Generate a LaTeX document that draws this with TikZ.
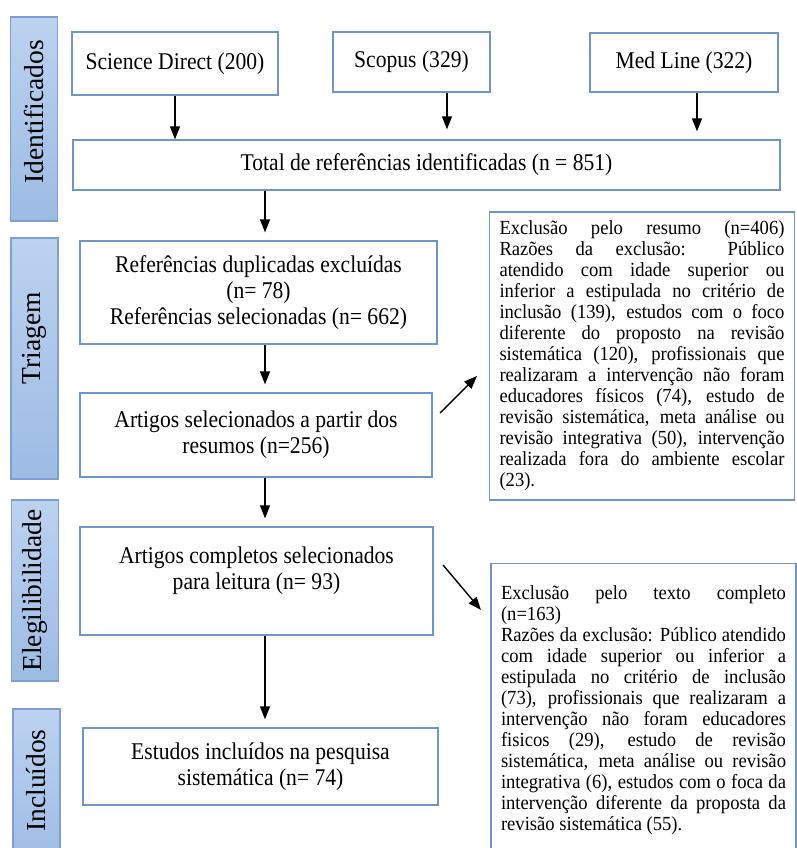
\documentclass[tikz,border=0pt]{standalone}
\usepackage{fontspec}
\setmainfont{Liberation Serif}
\newfontfamily\boxfont[FakeStretch=0.9]{Liberation Serif}
\newfontfamily\notefont[FakeStretch=0.93]{Liberation Serif}
\usetikzlibrary{arrows.meta}
\definecolor{edgeblue}{HTML}{7096C8}
\definecolor{stagelight}{HTML}{BCD2F0}
\definecolor{stagedark}{HTML}{9DBBE4}
\definecolor{stageline}{HTML}{7E9FCF}
\begin{document}
\begin{tikzpicture}[x=1pt,y=-1pt,
  box/.style={draw=edgeblue,line width=1.3pt,align=center,inner sep=4pt,font=\boxfont\fontsize{24}{26}\selectfont},
  note/.style={draw=edgeblue,line width=1.3pt,align=justify,inner xsep=10pt,text width=285pt,font=\notefont\fontsize{20}{21}\selectfont,execute at begin node={\tolerance=10000\hbadness=10000\hyphenpenalty=10000}},
  stage/.style={draw=stageline,line width=1.3pt,top color=stagelight,bottom color=stagedark,rotate=90,minimum height=47pt,font=\fontsize{27.5}{30}\selectfont},
  arr/.style={line width=1.4pt,-{Triangle[length=13pt,width=10pt]}}]
\useasboundingbox (0,0) rectangle (797,848);
\clip (0,0) rectangle (797,848);
% stages on the left
\foreach \n/\t/\x/\y/\h/\o in {sid/Identificados/34/119/204/14, stri/Triagem/34.5/358.5/241/40, sele/Elegilibilidade/35/590.5/181/0, sinc/Incluídos/36.5/789.5/161/18} {\node[stage,minimum width=\h pt] (\n) at (\x,\y) {\hspace*{\o pt}\t};}
% sources
\node[box,minimum width=206pt,minimum height=63pt] (sd) at (175,63.5) {Science Direct (200)};
\node[box,minimum width=157pt,minimum height=60pt] (scop) at (411.5,62) {Scopus (329)};
\node[box,minimum width=188pt,minimum height=59pt] (medl) at (684,62.5) {Med Line (322)};
\node[box,minimum width=707pt,minimum height=50pt] (total) at (426.5,165) {Total de referências identificadas (n = 851)};
% main column
\node[box,minimum width=357pt,minimum height=103pt] (dupl) at (258.5,292.5) {Referências duplicadas excluídas\\(n= 78)\\Referências selecionadas (n= 662)};
\node[box,minimum width=352pt,minimum height=84pt] (selres) at (256,435) {Artigos selecionados a partir dos\\resumos (n=256)};
\node[box,minimum width=353pt,minimum height=108pt] (compl) at (256.5,581) {Artigos completos selecionados\\para leitura (n= 93)\\~};
\node[box,minimum width=355pt,minimum height=77pt] (incl) at (260.5,766.5) {Estudos incluídos na pesquisa\\sistemática (n= 74)};
% exclusions
\node[note,minimum height=288pt] (excres) at (642,356) {Exclusão pelo resumo (n=406)\linebreak Razões da exclusão: Público\linebreak atendido com idade superior ou\linebreak inferior a estipulada no critério de\linebreak inclusão (139), estudos com o foco\linebreak diferente do proposto na revisão\linebreak sistemática (120), profissionais que\linebreak realizaram a intervenção não foram\linebreak educadores físicos (74), estudo de\linebreak revisão sistemática, meta análise ou\linebreak revisão integrativa (50), intervenção\linebreak realizada fora do ambiente escolar\linebreak (23).};
\node[note,anchor=north,inner ysep=22pt] (exctxt) at (643.5,563) {Exclusão pelo texto completo\linebreak (n=163)\hfill\break Razões da exclusão: Público atendido\linebreak com idade superior ou inferior a\linebreak estipulada no critério de inclusão\linebreak (73), profissionais que realizaram a\linebreak intervenção não foram educadores\linebreak fisicos (29), estudo de revisão\linebreak sistemática, meta análise ou revisão\linebreak integrativa (6), estudos com o foca da\linebreak intervenção diferente da proposta da\linebreak revisão sistemática (55).};
% arrows
\foreach \s/\x/\g in {sd/175/0, scop/447/10, medl/697/8} {\coordinate (x\s) at (\x,0); \draw[arr,shorten >=\g pt] (\s.south -| x\s) -- (total.north -| x\s);}
\coordinate (ax) at (265,0);
\foreach \a/\b in {total/dupl, dupl/selres, selres/compl, compl/incl} {\draw[arr,shorten >=8pt] (\a.south -| ax) -- (\b.north -| ax);}
\coordinate (d1a) at (440,413); \coordinate (d1b) at (477,376);
\coordinate (d2a) at (443,565); \coordinate (d2b) at (481,610);
\draw[arr] (d1a) -- (d1b);
\draw[arr] (d2a) -- (d2b);
\end{tikzpicture}
\end{document}
